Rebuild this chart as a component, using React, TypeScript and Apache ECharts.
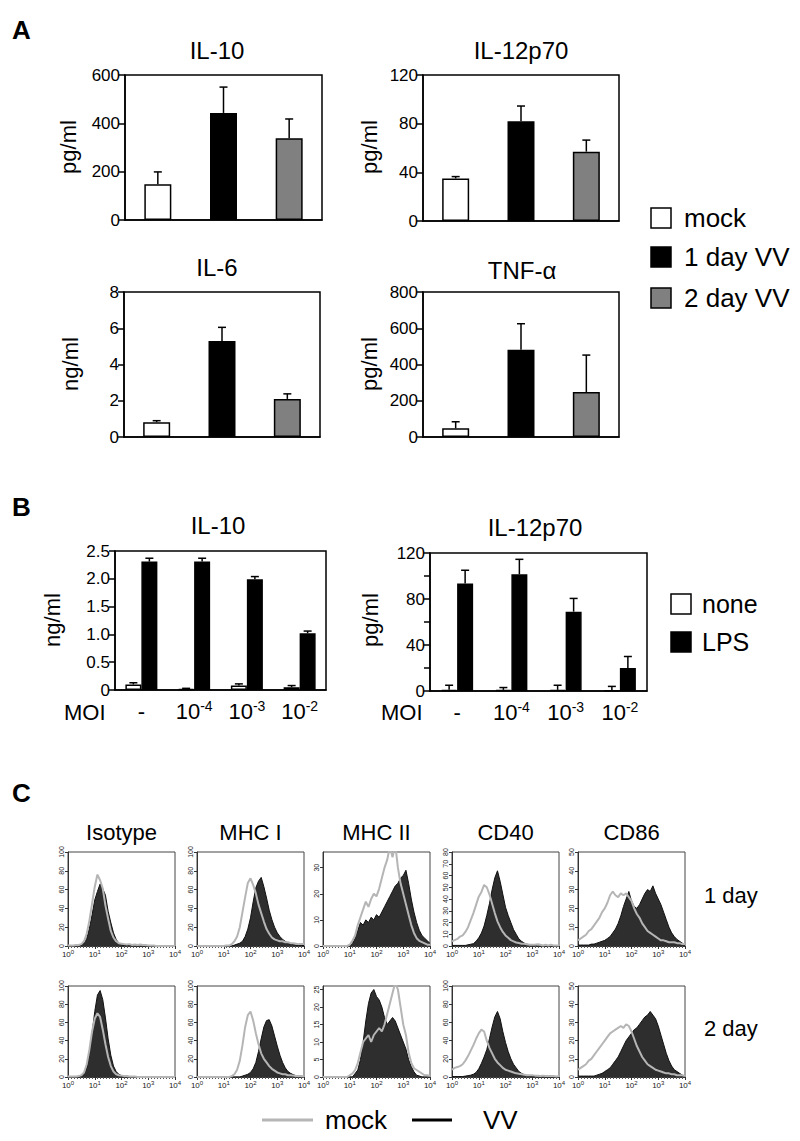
import React, { useEffect, useRef } from 'react';
import * as echarts from 'echarts';

const FONT = '"Liberation Sans", Arial, Helvetica, sans-serif';

// ---------- Panel A data ----------
const A_GROUPS = ['mock', '1 day VV', '2 day VV'];
const IL10_A = [148, 443, 338];
const IL10_A_UP = [199, 550, 418];
const IL12_A = [35, 82, 57];
const IL12_A_UP = [36.5, 94.5, 66.5];
const IL6_A = [0.82, 5.3, 2.1];
const IL6_A_UP = [0.9, 6.05, 2.38];
const TNF_A = [48, 482, 248];
const TNF_A_UP = [84, 625, 452];

// ---------- Panel B data ----------
const MOI = ['-', '10^-4', '10^-3', '10^-2'];
const B_GROUPS = ['none', 'LPS'];
const IL10_B_NONE = [0.1, 0.02, 0.08, 0.05];
const IL10_B_NONE_UP = [0.13, 0.03, 0.11, 0.08];
const IL10_B_LPS = [2.31, 2.31, 1.99, 1.02];
const IL10_B_LPS_UP = [2.37, 2.37, 2.04, 1.06];
const IL12_B_NONE = [1, 1, 1, 0.5];
const IL12_B_NONE_UP = [5, 3, 5, 4];
const IL12_B_LPS = [93.5, 101.5, 69, 20];
const IL12_B_LPS_UP = [105, 114.5, 80.5, 30];

// ---------- Panel C data (log10 fluorescence decades) ----------
const LOG_BINS = [0, 0.1, 0.2, 0.3, 0.4, 0.5, 0.6, 0.7, 0.8, 0.9, 1.0, 1.1, 1.2, 1.3, 1.4, 1.5, 1.6, 1.7, 1.8, 1.9, 2.0,
  2.1, 2.2, 2.3, 2.4, 2.5, 2.6, 2.7, 2.8, 2.9, 3.0, 3.1, 3.2, 3.3, 3.4, 3.5, 3.6, 3.7, 3.8, 3.9, 4.0];
const C_MARKERS = ['Isotype', 'MHC I', 'MHC II', 'CD40', 'CD86'];
const C_DAYS = ['1 day', '2 day'];
const C_YMAX = [[100, 100, 36, 80, 50], [100, 100, 26, 100, 50]];
const C_YSTEP = [[20, 20, 10, 10, 10], [20, 20, 5, 20, 10]];

// day 1
const ISO1_MOCK = [0.5, 0.5, 0.5, 1, 1, 2, 5, 13, 27, 45, 63, 76, 70, 61, 43, 29, 16, 9, 5, 3, 2.5, 2, 1.5, 2, 1, 1.5, 1, 1.5, 1, 1, 0.5, 0.5, 0.5, 0, 0, 0, 0, 0, 0, 0, 0];
const ISO1_VV = [0, 0, 0, 0, 0.5, 1, 3, 8, 19, 33, 49, 58, 66, 61, 54, 37, 25, 14, 7, 3, 1.5, 1, 0.5, 0.5, 0.3, 0, 0, 0, 0, 0, 0, 0, 0, 0, 0, 0, 0, 0, 0, 0, 0];
const MHC1_1_MOCK = [0, 0, 0, 0, 0, 0, 0, 0, 0, 0, 0, 0.5, 0.5, 2, 5, 10, 20, 36, 52, 67, 72, 65, 56, 44, 35, 26, 18, 13, 9, 7, 6, 5, 5, 4, 4, 3, 3, 2.5, 2, 2, 2];
const MHC1_1_VV = [0, 0, 0, 0, 0, 0, 0, 0, 0, 0, 0, 0, 0, 0, 1, 2, 3, 5, 10, 18, 30, 47, 62, 69, 73, 63, 51, 38, 28, 20, 14, 10, 7, 5, 3, 2, 1.5, 1, 1, 0.5, 0.5];
const MHC2_1_MOCK = [0, 0, 0, 0, 0, 0, 0, 0, 0, 0, 0.5, 2, 4, 8, 11, 14, 17, 15, 18, 20, 19, 22, 26, 30, 33, 38, 34, 39, 30, 24, 20, 16, 12, 8, 5, 3, 2, 1.5, 1, 0.5, 0.5];
const MHC2_1_VV = [0, 0, 0, 0, 0, 0, 0, 0, 0, 0, 0, 1, 3, 6, 9, 8, 10, 9, 11, 10, 12, 11, 13, 15, 17, 19, 21, 23, 24, 26, 27, 29, 24, 18, 13, 9, 6, 4, 3, 2, 1];
const CD40_1_MOCK = [4, 5, 6, 8, 9, 12, 16, 22, 28, 35, 42, 46, 52, 50, 44, 36, 28, 21, 16, 12, 9, 7, 5, 4, 3, 2.5, 2, 2, 1.5, 1, 1, 1, 1.5, 1, 0.5, 1, 0.5, 1, 0.5, 0.5, 0.5];
const CD40_1_VV = [0.5, 0.5, 0.5, 0.5, 0.5, 0.5, 1, 1.5, 2, 4, 7, 11, 17, 26, 36, 48, 58, 64, 55, 44, 33, 26, 20, 14, 10, 6, 4, 2.5, 1.5, 1, 0.5, 0.5, 0, 0, 0, 0, 0, 0, 0, 0, 0];
const CD86_1_MOCK = [3, 4, 5, 6, 8, 9, 11, 13, 15, 18, 20, 23, 27, 29, 27, 26, 28, 27, 28, 26, 24, 20, 17, 15, 12, 10, 8, 7, 6, 5, 4, 3, 3, 2.5, 2, 2, 2, 1.5, 1.5, 1, 1];
const CD86_1_VV = [0.5, 0.5, 0.5, 0.5, 0.5, 1, 1, 1.5, 2, 2.5, 3, 4, 5, 7, 9, 12, 16, 21, 25, 29, 24, 21, 20, 22, 25, 28, 30, 29, 32, 28, 25, 22, 18, 14, 10, 7, 5, 3.5, 2.5, 1.5, 1];
// day 2
const ISO2_MOCK = [0.5, 0.5, 0.5, 0.5, 1, 2, 5, 14, 30, 50, 64, 70, 66, 52, 36, 22, 12, 6, 3, 2, 1.5, 1, 1, 0.5, 0.5, 0.5, 0, 0, 0, 0, 0, 0, 0, 0, 0, 0, 0, 0, 0, 0, 0];
const ISO2_VV = [0, 0, 0, 0, 0, 1, 3, 10, 25, 48, 72, 90, 95, 85, 65, 42, 24, 12, 6, 3, 1.5, 1, 0.5, 0, 0, 0, 0, 0, 0, 0, 0, 0, 0, 0, 0, 0, 0, 0, 0, 0, 0];
const MHC1_2_MOCK = [0, 0, 0, 0, 0, 0, 0, 0, 0, 0, 0, 0, 0, 1, 3, 8, 18, 35, 55, 68, 72, 62, 48, 36, 26, 20, 16, 12, 9, 7, 5, 4, 3, 3, 2, 2, 1.5, 1, 1, 1, 0.5];
const MHC1_2_VV = [0, 0, 0, 0, 0, 0, 0, 0, 0, 0, 0, 0, 0, 0, 0, 0, 0, 1, 2, 3, 5, 9, 16, 28, 42, 55, 62, 63, 56, 45, 34, 24, 16, 10, 6, 4, 2.5, 1.5, 1, 0.5, 0.5];
const MHC2_2_MOCK = [0, 0, 0, 0, 0, 0, 0, 0, 0, 0, 0.5, 1, 2, 4, 7, 10, 11, 12, 10, 12, 13, 14, 13, 15, 18, 21, 24, 27, 25, 20, 15, 12, 7, 4, 2.5, 2, 1.5, 1, 0.5, 0.5, 0.3];
const MHC2_2_VV = [0, 0, 0, 0, 0, 0, 0, 0, 0, 0, 0, 0, 1, 2, 5, 10, 16, 21, 24, 25, 23, 22, 20, 17, 15, 16, 17, 16, 14, 12, 10, 8, 5, 3, 1.5, 0.5, 0.3, 0, 0, 0, 0];
const CD40_2_MOCK = [8, 10, 11, 12, 14, 18, 23, 29, 35, 42, 48, 52, 50, 40, 32, 26, 20, 16, 13, 10, 8, 7, 6, 5, 4, 3.5, 3, 2.5, 2, 2, 2, 1.5, 1.5, 1, 1.5, 1, 1, 1, 1, 0.5, 1];
const CD40_2_VV = [0.5, 0.5, 0.5, 0.5, 0.5, 1, 1.5, 2, 3, 5, 9, 15, 22, 30, 42, 55, 66, 72, 64, 50, 38, 28, 20, 14, 10, 6, 4, 2.5, 1.5, 1, 0.5, 0.5, 0, 0, 0, 0, 0, 0, 0, 0, 0];
const CD86_2_MOCK = [4, 5, 6, 7, 9, 10, 12, 14, 16, 18, 20, 22, 24, 25, 26, 27, 28, 27, 29, 28, 25, 21, 17, 14, 11, 9, 7, 6, 5, 4, 3.5, 3, 2.5, 2, 2, 1.5, 1.5, 1, 1, 1, 0.5];
const CD86_2_VV = [0.5, 0.5, 0.5, 0.5, 0.5, 0.5, 0.5, 1, 1.5, 2, 3, 4, 5, 7, 9, 11, 14, 17, 20, 22, 24, 26, 27, 29, 31, 33, 34, 36, 34, 32, 28, 23, 18, 13, 9, 6, 4, 3, 2, 1, 0.5];

const C_MOCK = [
  [ISO1_MOCK, MHC1_1_MOCK, MHC2_1_MOCK, CD40_1_MOCK, CD86_1_MOCK],
  [ISO2_MOCK, MHC1_2_MOCK, MHC2_2_MOCK, CD40_2_MOCK, CD86_2_MOCK],
];
const C_VV = [
  [ISO1_VV, MHC1_1_VV, MHC2_1_VV, CD40_1_VV, CD86_1_VV],
  [ISO2_VV, MHC1_2_VV, MHC2_2_VV, CD40_2_VV, CD86_2_VV],
];

// ---------- styles / layout ----------
const A_COLORS = ['#ffffff', '#000000', '#808080'];
const C_LEFTS = [68, 197, 323, 452, 578];
const C_WIDTH = 107;
const C_TOPS = [852, 986];
const C_HEIGHTS = [94, 91];

function buildOption() {
  const grid: any[] = [];
  const xAxis: any[] = [];
  const yAxis: any[] = [];
  const series: any[] = [];
  const graphic: any[] = [];

  const blackLine = { color: '#000', width: 1.5 };

  const errSeries = (gi: number, means: number[], ups: number[], offset: number) => ({
    type: 'custom',
    xAxisIndex: gi,
    yAxisIndex: gi,
    z: 5,
    encode: { x: 0, y: 1 },
    data: means.map((m, i) => [i, m, ups[i]]),
    renderItem: (_p: any, api: any) => {
      const p0 = api.coord([api.value(0), api.value(1)]);
      const p1 = api.coord([api.value(0), api.value(2)]);
      const x = p0[0] + offset;
      return {
        type: 'group',
        children: [
          { type: 'line', shape: { x1: x, y1: p0[1], x2: x, y2: p1[1] }, style: { stroke: '#000', lineWidth: 1.5 } },
          { type: 'line', shape: { x1: x - 4, y1: p1[1], x2: x + 4, y2: p1[1] }, style: { stroke: '#000', lineWidth: 1.5 } },
        ],
      };
    },
  });

  const boxGrid = (left: number, top: number, width: number, height: number) => ({
    left, top, width, height, show: true, borderColor: '#000', borderWidth: 1.5,
    containLabel: false, outerBoundsMode: 'none',
  });

  const valueY = (gi: number, max: number, interval: number, fmt?: (v: number) => string) => ({
    type: 'value', gridIndex: gi, min: 0, max, interval,
    axisLine: { show: true, lineStyle: blackLine },
    axisTick: { show: true, length: 6, lineStyle: blackLine },
    axisLabel: { color: '#000', fontSize: 17, fontFamily: FONT, margin: 5, formatter: fmt },
    splitLine: { show: false },
  });

  // ----- Panel A -----
  const aCharts = [
    { box: [125, 75, 197, 145], vals: IL10_A, ups: IL10_A_UP, max: 600, step: 200 },
    { box: [423, 75, 196, 146], vals: IL12_A, ups: IL12_A_UP, max: 120, step: 40 },
    { box: [124, 292, 196, 145], vals: IL6_A, ups: IL6_A_UP, max: 8, step: 2 },
    { box: [423, 292, 196, 145], vals: TNF_A, ups: TNF_A_UP, max: 800, step: 200 },
  ];
  aCharts.forEach((c) => {
    const gi = grid.length;
    grid.push(boxGrid(c.box[0], c.box[1], c.box[2], c.box[3]));
    xAxis.push({
      type: 'category', gridIndex: gi, data: A_GROUPS,
      axisLine: { show: true, lineStyle: blackLine }, axisTick: { show: false }, axisLabel: { show: false },
    });
    yAxis.push(valueY(gi, c.max, c.step));
    series.push({
      type: 'bar', xAxisIndex: gi, yAxisIndex: gi, barWidth: 27,
      data: c.vals.map((v, i) => ({ value: v, itemStyle: { color: A_COLORS[i] } })),
      itemStyle: { borderColor: '#000', borderWidth: 1.5 },
    });
    series.push(errSeries(gi, c.vals, c.ups, 0));
  });

  // ----- Panel B -----
  const moiFormatter = (v: string) => (v.startsWith('10^') ? `{b|10}{s|${v.slice(3)}}` : `{b|${v}}`);
  const moiRich = {
    b: { fontSize: 22, fontFamily: FONT, color: '#000', lineHeight: 24 },
    s: { fontSize: 14, fontFamily: FONT, color: '#000', verticalAlign: 'top', lineHeight: 24 },
  };
  const bCharts = [
    { box: [115, 551, 211, 139], none: IL10_B_NONE, noneUp: IL10_B_NONE_UP, lps: IL10_B_LPS, lpsUp: IL10_B_LPS_UP,
      max: 2.5, step: 0.5, fmt: (v: number) => (v === 0 ? '0' : v.toFixed(1)) },
    { box: [430, 553, 217, 138], none: IL12_B_NONE, noneUp: IL12_B_NONE_UP, lps: IL12_B_LPS, lpsUp: IL12_B_LPS_UP,
      max: 120, step: 20, fmt: (v: number) => (v % 40 === 0 ? String(v) : '') },
  ];
  bCharts.forEach((c) => {
    const gi = grid.length;
    grid.push(boxGrid(c.box[0], c.box[1], c.box[2], c.box[3]));
    xAxis.push({
      type: 'category', gridIndex: gi, data: MOI,
      axisLine: { show: true, lineStyle: blackLine }, axisTick: { show: false },
      axisLabel: { show: true, interval: 0, hideOverlap: false, margin: 9, formatter: moiFormatter, rich: moiRich },
    });
    yAxis.push(valueY(gi, c.max, c.step, c.fmt));
    series.push({
      type: 'bar', name: B_GROUPS[0], xAxisIndex: gi, yAxisIndex: gi, barWidth: 16, barGap: '0%',
      data: c.none, itemStyle: { color: '#fff', borderColor: '#000', borderWidth: 1.5 },
    });
    series.push({
      type: 'bar', name: B_GROUPS[1], xAxisIndex: gi, yAxisIndex: gi, barWidth: 16, barGap: '0%',
      data: c.lps, itemStyle: { color: '#000', borderColor: '#000', borderWidth: 1.5 },
    });
    series.push(errSeries(gi, c.none, c.noneUp, -8));
    series.push(errSeries(gi, c.lps, c.lpsUp, 8));
  });

  // ----- Panel C -----
  for (let r = 0; r < 2; r++) {
    for (let m = 0; m < 5; m++) {
      const gi = grid.length;
      grid.push({
        left: C_LEFTS[m], top: C_TOPS[r], width: C_WIDTH, height: C_HEIGHTS[r],
        show: true, borderColor: '#444', borderWidth: 1, containLabel: false, outerBoundsMode: 'none',
      });
      xAxis.push({
        type: 'value', gridIndex: gi, min: 0, max: 4, interval: 1,
        axisLine: { show: true, lineStyle: { color: '#333', width: 1 } },
        axisTick: { show: true, length: 3, lineStyle: { color: '#333' } },
        minorTick: { show: true, splitNumber: 9, length: 2, lineStyle: { color: '#555' } },
        axisLabel: {
          margin: 3, hideOverlap: false, formatter: (v: number) => `{b|10}{s|${v}}`,
          rich: {
            b: { fontSize: 8, fontFamily: FONT, color: '#222', lineHeight: 10 },
            s: { fontSize: 6, fontFamily: FONT, color: '#222', verticalAlign: 'top', lineHeight: 10 },
          },
        },
        splitLine: { show: false },
      });
      const max = C_YMAX[r][m];
      const step = C_YSTEP[r][m];
      yAxis.push({
        type: 'value', gridIndex: gi, min: 0, max, interval: step,
        axisLine: { show: true, lineStyle: { color: '#333', width: 1 } },
        axisTick: { show: true, length: 3, lineStyle: { color: '#333' } },
        axisLabel: { rotate: 90, fontSize: 7, fontFamily: FONT, color: '#222', margin: 3, showMaxLabel: max % step === 0 },
        splitLine: { show: false },
      });
      series.push({
        type: 'line', name: 'VV', xAxisIndex: gi, yAxisIndex: gi, symbol: 'none', clip: true,
        data: LOG_BINS.map((b, i) => [b, C_VV[r][m][i]]),
        lineStyle: { color: '#111', width: 1 },
        areaStyle: { color: '#2e2e2e', opacity: 1 },
      });
      series.push({
        type: 'line', name: 'mock', xAxisIndex: gi, yAxisIndex: gi, symbol: 'none', clip: true,
        data: LOG_BINS.map((b, i) => [b, C_MOCK[r][m][i]]),
        lineStyle: { color: '#b5b5b5', width: 2 },
      });
    }
  }

  // ----- Text / legends -----
  const txt = (text: string, x: number, y: number, size: number, opts: any = {}) => ({
    type: 'text', x, y, rotation: opts.rotation || 0,
    style: {
      text, fontSize: size, fontFamily: FONT, fill: '#000', fontWeight: opts.bold ? 'bold' : 'normal',
      textAlign: opts.align || 'center', textVerticalAlign: 'middle',
    },
  });
  const rot = Math.PI / 2;

  graphic.push(txt('A', 12, 30, 26, { bold: true, align: 'left' }));
  graphic.push(txt('B', 12, 507, 26, { bold: true, align: 'left' }));
  graphic.push(txt('C', 12, 793, 26, { bold: true, align: 'left' }));

  graphic.push(txt('IL-10', 217, 50, 24));
  graphic.push(txt('IL-12p70', 521, 50, 24));
  graphic.push(txt('IL-6', 217, 267, 24));
  graphic.push(txt('TNF-α', 522, 270, 24));
  graphic.push(txt('pg/ml', 68, 147, 22, { rotation: rot }));
  graphic.push(txt('pg/ml', 369, 147, 22, { rotation: rot }));
  graphic.push(txt('ng/ml', 70, 364, 22, { rotation: rot }));
  graphic.push(txt('pg/ml', 369, 364, 22, { rotation: rot }));

  // Legend A
  const aLegY = [218, 257, 298];
  A_GROUPS.forEach((g, i) => {
    graphic.push({ type: 'rect', shape: { x: 651, y: aLegY[i] - 10, width: 20, height: 20 },
      style: { fill: A_COLORS[i], stroke: '#000', lineWidth: 1.5 } });
    graphic.push(txt(g, 684, aLegY[i], 26, { align: 'left' }));
  });

  // Panel B texts
  graphic.push(txt('IL-10', 218, 525, 24));
  graphic.push(txt('IL-12p70', 535, 527, 24));
  graphic.push(txt('ng/ml', 52, 620, 22, { rotation: rot }));
  graphic.push(txt('pg/ml', 370, 620, 22, { rotation: rot }));
  graphic.push(txt('MOI', 64, 712, 22, { align: 'left' }));
  graphic.push(txt('MOI', 381, 712, 22, { align: 'left' }));
  const bLegY = [604, 642];
  B_GROUPS.forEach((g, i) => {
    graphic.push({ type: 'rect', shape: { x: 671, y: bLegY[i] - 10, width: 20, height: 20 },
      style: { fill: i === 0 ? '#fff' : '#000', stroke: '#000', lineWidth: 1.5 } });
    graphic.push(txt(g, 702, bLegY[i], 25, { align: 'left' }));
  });

  // Panel C texts
  C_MARKERS.forEach((mk, m) => graphic.push(txt(mk, C_LEFTS[m] + C_WIDTH / 2, 832, 22)));
  graphic.push(txt(C_DAYS[0], 704, 895, 22, { align: 'left' }));
  graphic.push(txt(C_DAYS[1], 704, 1028, 22, { align: 'left' }));
  graphic.push({ type: 'line', shape: { x1: 262, y1: 1120, x2: 313, y2: 1120 }, style: { stroke: '#b5b5b5', lineWidth: 3 } });
  graphic.push(txt('mock', 325, 1120, 26, { align: 'left' }));
  graphic.push({ type: 'line', shape: { x1: 412, y1: 1120, x2: 452, y2: 1120 }, style: { stroke: '#000', lineWidth: 3 } });
  graphic.push(txt('VV', 483, 1120, 26, { align: 'left' }));

  return {
    animation: false,
    backgroundColor: '#fff',
    textStyle: { fontFamily: FONT },
    grid, xAxis, yAxis, series, graphic,
  };
}

export default function App() {
  const ref = useRef<HTMLDivElement>(null);
  useEffect(() => {
    document.body.style.margin = '0';
    const chart = echarts.init(ref.current as HTMLDivElement, null, { renderer: 'svg' });
    chart.setOption(buildOption() as any);
    return () => chart.dispose();
  }, []);
  return (
    <div
      ref={ref}
      style={{ position: 'absolute', left: 0, top: 0, width: 800, height: 1141, background: '#fff' }}
    />
  );
}
